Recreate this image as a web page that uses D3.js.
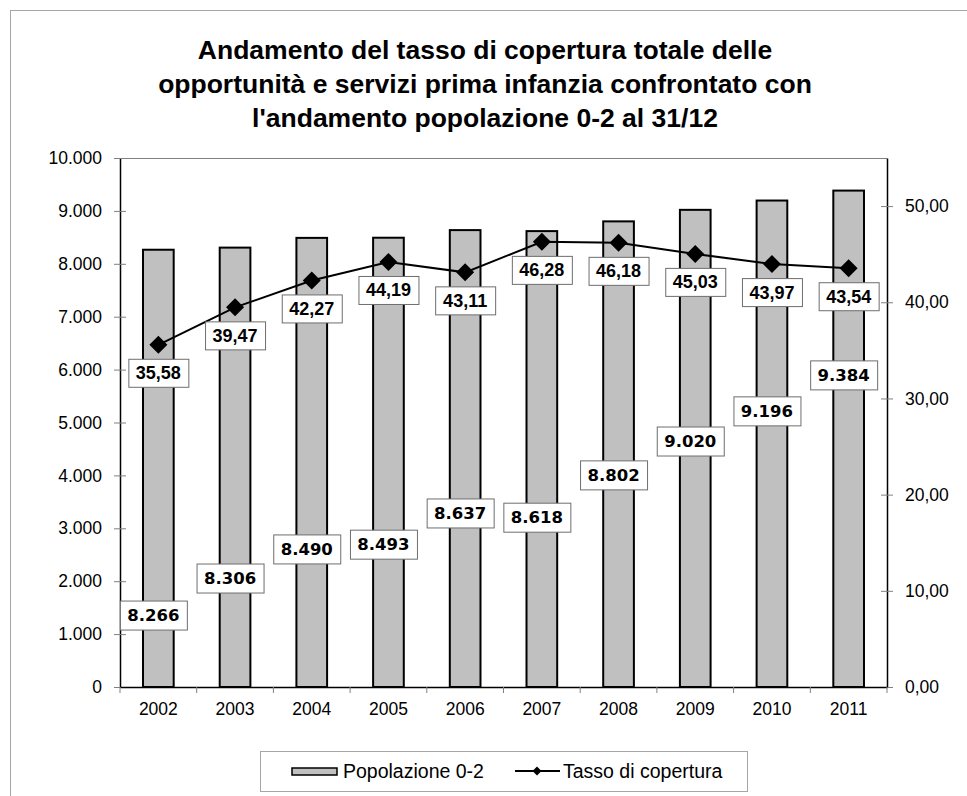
<!DOCTYPE html>
<html lang="it">
<head>
    <meta charset="UTF-8">
    <title>Andamento tasso di copertura</title>
    <script src="https://d3js.org/d3.v7.min.js"></script>
    <style>
        body { margin: 0; background: #fff; }
        svg text { font-family: "Liberation Sans", Arial, sans-serif; }
        .tick text { font-size: 17.5px; fill: #000; }
        .pop-label { font-family: "DejaVu Sans", Verdana, sans-serif !important; font-weight: bold; font-size: 16.5px; }
        .rate-label { font-weight: bold; font-size: 18px; }
    </style>
</head>
<body>
    <svg id="chart" width="967" height="796"></svg>

    <script>
        // data
        const years = ['2002', '2003', '2004', '2005', '2006', '2007', '2008', '2009', '2010', '2011'];
        const popolazione = [8266, 8306, 8490, 8493, 8637, 8618, 8802, 9020, 9196, 9384];
        const tasso = [35.58, 39.47, 42.27, 44.19, 43.11, 46.28, 46.18, 45.03, 43.97, 43.54];
        // where the population labels were dragged to (left axis units)
        const popLabelAt = [1360, 2060, 2610, 2700, 3290, 3210, 4010, 4650, 5220, 5900];
        const leftTicks = [0, 1000, 2000, 3000, 4000, 5000, 6000, 7000, 8000, 9000, 10000];
        const rightTicks = [0, 10, 20, 30, 40, 50];

        const svg = d3.select('#chart');
        const plot = { left: 120, right: 887, top: 158, bottom: 687 };

        const fmtPop = d3.formatLocale({ decimal: ',', thousands: '.', grouping: [3], currency: ['', ''] }).format(',d');
        const fmtRate = v => v.toFixed(2).replace('.', ',');

        const x = d3.scaleBand().domain(years).range([plot.left, plot.right]).paddingInner(0.6).paddingOuter(0.3);
        const xAxisScale = d3.scaleBand().domain(years).range([plot.left, plot.right]);
        const yLeft = d3.scaleLinear().domain([0, 10000]).range([plot.bottom, plot.top]);
        const yRight = d3.scaleLinear().domain([0, 55]).range([plot.bottom, plot.top]);

        // outer chart frame
        svg.append('rect')
            .attr('x', 10.5).attr('y', 10.5)
            .attr('width', 1000).attr('height', 1000)
            .attr('fill', 'none').attr('stroke', '#a6a6a6');

        // title
        const title = ['Andamento del tasso di copertura totale delle',
            'opportunità e servizi prima infanzia confrontato con',
            "l'andamento popolazione 0-2 al 31/12"];
        svg.append('text')
            .attr('x', 485).attr('y', 59)
            .attr('text-anchor', 'middle')
            .style('font-weight', 'bold').style('font-size', '26.5px')
            .selectAll('tspan').data(title).join('tspan')
            .attr('x', 485).attr('dy', (d, i) => i ? 34 : 0)
            .text(d => d);

        // plot frame (top in grey)
        svg.append('line')
            .attr('x1', plot.left).attr('x2', plot.right)
            .attr('y1', plot.top + 0.5).attr('y2', plot.top + 0.5)
            .attr('stroke', '#808080');

        // bars
        svg.append('g').selectAll('rect').data(popolazione).join('rect')
            .attr('x', (d, i) => x(years[i]))
            .attr('y', d => yLeft(d))
            .attr('width', x.bandwidth())
            .attr('height', d => yLeft(0) - yLeft(d))
            .attr('fill', '#c0c0c0')
            .attr('stroke', '#000')
            .attr('stroke-width', 2);

        // axes
        const gl = svg.append('g').attr('transform', `translate(${plot.left},0)`)
            .call(d3.axisLeft(yLeft).tickValues(leftTicks).tickSizeInner(6).tickSizeOuter(0).tickPadding(12)
                .tickFormat(d => fmtPop(d)));
        gl.selectAll('.tick line').attr('x2', 6).attr('x1', -6).attr('stroke', '#808080');
        gl.select('.domain').attr('stroke', '#000').attr('stroke-width', 1.5);

        const gr = svg.append('g').attr('transform', `translate(${plot.right},0)`)
            .call(d3.axisRight(yRight).tickValues(rightTicks).tickSizeInner(6).tickSizeOuter(0).tickPadding(12)
                .tickFormat(fmtRate));
        gr.selectAll('.tick line').attr('x1', -6).attr('x2', 6).attr('stroke', '#808080');
        gr.select('.domain').attr('stroke', '#000').attr('stroke-width', 1.5);

        const gx = svg.append('g').attr('transform', `translate(0,${plot.bottom})`)
            .call(d3.axisBottom(xAxisScale).tickSize(0).tickPadding(16));
        gx.select('.domain').attr('stroke', '#000').attr('stroke-width', 1.5);
        // boundary ticks between categories
        gx.selectAll('.sep').data(years.concat(['end'])).join('line')
            .attr('class', 'sep')
            .attr('x1', (d, i) => i < years.length ? xAxisScale(d) : plot.right)
            .attr('x2', (d, i) => i < years.length ? xAxisScale(d) : plot.right)
            .attr('y1', 0).attr('y2', 6)
            .attr('stroke', '#808080');

        // line series
        const cx = i => x(years[i]) + x.bandwidth() / 2;
        const line = d3.line().x((d, i) => cx(i)).y(d => yRight(d));
        svg.append('path').datum(tasso)
            .attr('d', line)
            .attr('fill', 'none').attr('stroke', '#000').attr('stroke-width', 2);

        const diamond = 'M0,-9L9,0L0,9L-9,0Z';
        svg.append('g').selectAll('path').data(tasso).join('path')
            .attr('transform', (d, i) => `translate(${cx(i)},${yRight(d)})`)
            .attr('d', diamond)
            .attr('fill', '#000');

        // labels with boxes
        function boxLabel(g, cxv, cyv, txt, w, h, cls) {
            const lg = g.append('g').attr('transform', `translate(${cxv},${cyv})`);
            lg.append('rect')
                .attr('x', -w / 2 + 0.5).attr('y', -h / 2 + 0.5)
                .attr('width', w).attr('height', h)
                .attr('fill', '#fff').attr('stroke', '#6e6e6e');
            lg.append('text')
                .attr('class', cls)
                .attr('text-anchor', 'middle')
                .attr('dy', '0.36em')
                .text(txt);
        }

        const labels = svg.append('g');
        popolazione.forEach((v, i) => {
            boxLabel(labels, cx(i) - 5, yLeft(popLabelAt[i]), fmtPop(v), 67, 29, 'pop-label');
        });
        tasso.forEach((v, i) => {
            boxLabel(labels, cx(i), yRight(v) + 28, fmtRate(v), 60, 28, 'rate-label');
        });

        // legend
        const leg = svg.append('g');
        leg.append('rect')
            .attr('x', 260.5).attr('y', 751.5)
            .attr('width', 487).attr('height', 40)
            .attr('fill', '#fff').attr('stroke', '#a6a6a6');
        leg.append('rect')
            .attr('x', 292).attr('y', 768)
            .attr('width', 45).attr('height', 7)
            .attr('fill', '#c0c0c0').attr('stroke', '#000').attr('stroke-width', 1.5);
        leg.append('text')
            .attr('x', 343).attr('y', 778)
            .style('font-size', '19.5px')
            .text('Popolazione 0-2');
        leg.append('line')
            .attr('x1', 515).attr('x2', 560)
            .attr('y1', 771).attr('y2', 771)
            .attr('stroke', '#000').attr('stroke-width', 2);
        leg.append('path')
            .attr('transform', 'translate(537,771)')
            .attr('d', 'M0,-4.5L4.5,0L0,4.5L-4.5,0Z')
            .attr('fill', '#000');
        leg.append('text')
            .attr('x', 563).attr('y', 778)
            .style('font-size', '19.5px')
            .text('Tasso di copertura');
    </script>
</body>
</html>
